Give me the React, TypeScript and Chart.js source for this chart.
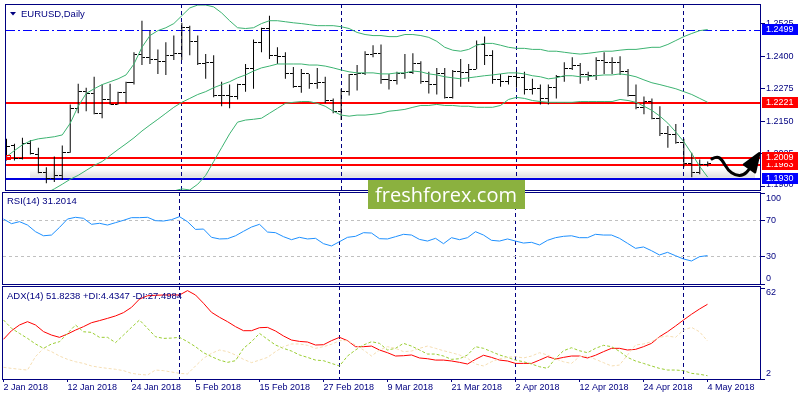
import React, { useEffect, useRef } from 'react';
import { Chart, registerables } from 'chart.js';

Chart.register(...registerables);

// ---------------- data ----------------
const xTickBars = [0, 8, 16, 24, 32, 40, 48, 56, 64, 72, 80, 88];
const xTickLabels = ['2 Jan 2018', '12 Jan 2018', '24 Jan 2018', '5 Feb 2018', '15 Feb 2018', '27 Feb 2018', '9 Mar 2018', '21 Mar 2018', '2 Apr 2018', '12 Apr 2018', '24 Apr 2018', '4 May 2018'];
const monthStartBars = [22, 42, 64, 85];

const open = [
  1.2053, 1.2057, 1.2008, 1.2064, 1.2023, 1.1955, 1.1932, 1.1943, 1.2030, 1.2200,
  1.2264, 1.2257, 1.2181, 1.2234, 1.2215, 1.2260, 1.2298, 1.2408, 1.2396, 1.2389,
  1.2381, 1.2404, 1.2411, 1.2509, 1.2457, 1.2370, 1.2374, 1.2249, 1.2249, 1.2245,
  1.2291, 1.2351, 1.2453, 1.2506, 1.2404, 1.2400, 1.2332, 1.2283, 1.2332, 1.2294,
  1.2298, 1.2230, 1.2189, 1.2264, 1.2328, 1.2332, 1.2408, 1.2411, 1.2309, 1.2306,
  1.2332, 1.2336, 1.2370, 1.2302, 1.2291, 1.2332, 1.2242, 1.2340, 1.2336, 1.2347,
  1.2445, 1.2404, 1.2309, 1.2302, 1.2321, 1.2317, 1.2272, 1.2275, 1.2238, 1.2279,
  1.2321, 1.2351, 1.2366, 1.2328, 1.2325, 1.2385, 1.2377, 1.2374, 1.2340, 1.2249,
  1.2204, 1.2226, 1.2162, 1.2102, 1.2098, 1.2068, 1.1989, 1.1955, 1.1985,
];
const high = [
  1.2083, 1.2064, 1.2087, 1.2079, 1.2049, 1.1974, 1.2015, 1.2057, 1.2215, 1.2294,
  1.2279, 1.2321, 1.2291, 1.2294, 1.2264, 1.2302, 1.2415, 1.2536, 1.2498, 1.2426,
  1.2453, 1.2479, 1.2528, 1.2517, 1.2479, 1.2408, 1.2404, 1.2302, 1.2291, 1.2294,
  1.2370, 1.2464, 1.2509, 1.2555, 1.2434, 1.2415, 1.2358, 1.2351, 1.2332, 1.2355,
  1.2321, 1.2238, 1.2275, 1.2332, 1.2366, 1.2419, 1.2442, 1.2445, 1.2332, 1.2340,
  1.2408, 1.2411, 1.2381, 1.2340, 1.2355, 1.2355, 1.2347, 1.2389, 1.2370, 1.2460,
  1.2475, 1.2423, 1.2332, 1.2325, 1.2343, 1.2340, 1.2313, 1.2291, 1.2291, 1.2328,
  1.2377, 1.2396, 1.2374, 1.2340, 1.2396, 1.2415, 1.2396, 1.2400, 1.2351, 1.2291,
  1.2245, 1.2238, 1.2208, 1.2132, 1.2140, 1.2083, 1.2030, 1.2004, 1.1996,
];
const low = [
  1.2000, 1.2000, 1.2004, 1.2023, 1.1951, 1.1913, 1.1917, 1.1925, 1.2030, 1.2181,
  1.2189, 1.2177, 1.2162, 1.2215, 1.2215, 1.2219, 1.2291, 1.2366, 1.2370, 1.2332,
  1.2328, 1.2385, 1.2385, 1.2404, 1.2366, 1.2313, 1.2242, 1.2208, 1.2200, 1.2234,
  1.2264, 1.2275, 1.2415, 1.2389, 1.2370, 1.2313, 1.2279, 1.2260, 1.2275, 1.2275,
  1.2219, 1.2181, 1.2155, 1.2249, 1.2268, 1.2328, 1.2396, 1.2294, 1.2272, 1.2291,
  1.2313, 1.2332, 1.2294, 1.2257, 1.2253, 1.2238, 1.2238, 1.2283, 1.2302, 1.2351,
  1.2366, 1.2294, 1.2283, 1.2291, 1.2279, 1.2253, 1.2253, 1.2215, 1.2215, 1.2238,
  1.2302, 1.2347, 1.2294, 1.2306, 1.2309, 1.2332, 1.2332, 1.2328, 1.2245, 1.2196,
  1.2177, 1.2158, 1.2094, 1.2049, 1.2064, 1.1974, 1.1936, 1.1947, 1.1977,
];
const close = [
  1.2053, 1.2008, 1.2064, 1.2026, 1.1955, 1.1932, 1.1943, 1.2030, 1.2200, 1.2264,
  1.2257, 1.2181, 1.2234, 1.2215, 1.2260, 1.2298, 1.2408, 1.2396, 1.2389, 1.2381,
  1.2404, 1.2411, 1.2509, 1.2457, 1.2370, 1.2374, 1.2249, 1.2249, 1.2245, 1.2291,
  1.2351, 1.2453, 1.2506, 1.2404, 1.2400, 1.2332, 1.2283, 1.2332, 1.2294, 1.2298,
  1.2230, 1.2189, 1.2264, 1.2328, 1.2332, 1.2408, 1.2411, 1.2309, 1.2306, 1.2332,
  1.2336, 1.2370, 1.2302, 1.2291, 1.2332, 1.2242, 1.2340, 1.2336, 1.2347, 1.2445,
  1.2404, 1.2309, 1.2302, 1.2321, 1.2317, 1.2272, 1.2275, 1.2238, 1.2279, 1.2321,
  1.2351, 1.2366, 1.2328, 1.2325, 1.2385, 1.2377, 1.2374, 1.2340, 1.2249, 1.2204,
  1.2226, 1.2162, 1.2102, 1.2098, 1.2068, 1.1989, 1.1955, 1.1985, 1.1989,
];

const bbUpper = [
  1.2015, 1.2038, 1.2060, 1.2075, 1.2083, 1.2087, 1.2091, 1.2098, 1.2143, 1.2208,
  1.2257, 1.2275, 1.2291, 1.2302, 1.2313, 1.2328, 1.2370, 1.2434, 1.2479, 1.2498,
  1.2509, 1.2525, 1.2555, 1.2585, 1.2596, 1.2596, 1.2589, 1.2566, 1.2536, 1.2509,
  1.2506, 1.2509, 1.2525, 1.2536, 1.2536, 1.2532, 1.2528, 1.2525, 1.2521, 1.2517,
  1.2517, 1.2517, 1.2513, 1.2506, 1.2491, 1.2483, 1.2479, 1.2479, 1.2475, 1.2475,
  1.2483, 1.2483, 1.2479, 1.2472, 1.2457, 1.2434, 1.2423, 1.2419, 1.2426, 1.2442,
  1.2449, 1.2449, 1.2442, 1.2434, 1.2430, 1.2430, 1.2426, 1.2426, 1.2419, 1.2419,
  1.2415, 1.2411, 1.2408, 1.2411, 1.2415, 1.2419, 1.2419, 1.2423, 1.2426, 1.2426,
  1.2430, 1.2434, 1.2434, 1.2445, 1.2460, 1.2475, 1.2487, 1.2498, 1.2502,
];
const bbMiddle = [
  1.1785, 1.1804, 1.1819, 1.1838, 1.1857, 1.1875, 1.1891, 1.1909, 1.1928, 1.1943,
  1.1962, 1.1981, 1.1996, 1.2019, 1.2042, 1.2064, 1.2087, 1.2113, 1.2136, 1.2158,
  1.2181, 1.2204, 1.2223, 1.2238, 1.2253, 1.2264, 1.2279, 1.2291, 1.2302, 1.2317,
  1.2328, 1.2343, 1.2355, 1.2362, 1.2370, 1.2370, 1.2370, 1.2370, 1.2366, 1.2366,
  1.2362, 1.2355, 1.2347, 1.2340, 1.2336, 1.2336, 1.2336, 1.2332, 1.2332, 1.2336,
  1.2336, 1.2343, 1.2340, 1.2332, 1.2328, 1.2321, 1.2317, 1.2313, 1.2317, 1.2321,
  1.2325, 1.2328, 1.2332, 1.2336, 1.2336, 1.2332, 1.2325, 1.2321, 1.2313, 1.2317,
  1.2325, 1.2325, 1.2321, 1.2321, 1.2325, 1.2328, 1.2328, 1.2332, 1.2328, 1.2321,
  1.2309, 1.2298, 1.2291, 1.2283, 1.2275, 1.2264, 1.2253, 1.2238, 1.2223,
];
const bbLower = [
  1.1555, 1.1570, 1.1577, 1.1600, 1.1630, 1.1664, 1.1691, 1.1721, 1.1713, 1.1679,
  1.1668, 1.1687, 1.1702, 1.1736, 1.1770, 1.1800, 1.1804, 1.1792, 1.1792, 1.1819,
  1.1853, 1.1883, 1.1891, 1.1887, 1.1909, 1.1943, 1.1996, 1.2049, 1.2102, 1.2147,
  1.2155, 1.2158, 1.2162, 1.2181, 1.2200, 1.2219, 1.2223, 1.2226, 1.2226, 1.2219,
  1.2208, 1.2189, 1.2174, 1.2170, 1.2174, 1.2174, 1.2177, 1.2181, 1.2189, 1.2192,
  1.2196, 1.2204, 1.2211, 1.2211, 1.2215, 1.2211, 1.2211, 1.2208, 1.2208, 1.2204,
  1.2204, 1.2204, 1.2211, 1.2234, 1.2242, 1.2238, 1.2230, 1.2226, 1.2223, 1.2223,
  1.2223, 1.2223, 1.2226, 1.2226, 1.2226, 1.2226, 1.2226, 1.2234, 1.2230, 1.2223,
  1.2208, 1.2192, 1.2170, 1.2143, 1.2109, 1.2072, 1.2026, 1.1977, 1.1936,
];

const rsi = [
  71.4, 66.3, 68.5, 64.8, 57.5, 53.0, 53.8, 62.2, 71.4, 73.3,
  72.2, 65.6, 66.7, 64.8, 67.4, 70.0, 72.9, 72.9, 73.3, 69.6,
  69.2, 70.7, 74.0, 68.5, 60.0, 60.4, 51.3, 49.5, 49.8, 53.0,
  57.9, 62.6, 65.6, 57.1, 56.4, 52.0, 48.7, 51.3, 49.5, 50.2,
  44.3, 41.8, 46.5, 51.3, 52.4, 56.4, 56.0, 49.8, 49.5, 52.0,
  54.6, 53.8, 49.0, 47.2, 50.2, 44.3, 50.9, 48.7, 50.9, 57.5,
  53.8, 48.0, 47.2, 49.5, 47.2, 45.0, 45.8, 42.9, 48.0, 50.9,
  52.4, 53.0, 50.9, 50.9, 54.6, 53.8, 53.8, 50.2, 44.7, 39.2,
  40.7, 36.6, 31.9, 34.8, 31.1, 27.5, 25.3, 30.0, 31.2014,
];
const adx = [
  28.6, 34.3, 38.1, 40.3, 38.1, 33.7, 31.4, 29.9, 32.1, 34.7,
  37.0, 39.6, 41.0, 42.5, 44.1, 46.3, 49.8, 55.3, 57.5, 57.8,
  58.0, 58.0, 58.0, 60.9, 58.0, 52.5, 46.5, 43.2, 40.3, 37.0,
  34.3, 34.3, 36.3, 36.5, 34.1, 30.8, 28.1, 27.2, 26.8, 24.8,
  25.0, 27.7, 29.9, 27.7, 23.7, 23.7, 24.1, 21.5, 19.7, 17.5,
  17.7, 18.2, 16.2, 15.7, 14.8, 14.8, 14.2, 13.3, 12.2, 15.3,
  18.0, 16.6, 14.8, 14.2, 12.6, 12.6, 12.6, 14.8, 17.1, 15.5,
  16.6, 17.5, 17.5, 16.2, 18.0, 20.4, 22.6, 22.6, 21.5, 21.9,
  23.7, 25.9, 30.3, 33.6, 37.4, 41.4, 45.2, 48.7, 51.8238,
];
const plusDI = [
  41.4, 35.9, 32.5, 29.2, 25.5, 22.6, 25.5, 27.0, 32.5, 38.1,
  33.6, 33.2, 29.9, 29.9, 26.4, 31.4, 36.5, 41.4, 35.9, 30.3,
  29.2, 29.4, 29.9, 27.0, 23.7, 19.7, 17.1, 14.8, 13.3, 14.4,
  22.6, 27.0, 32.5, 28.6, 24.8, 22.6, 20.8, 18.2, 16.6, 14.8,
  14.4, 12.6, 10.9, 17.5, 21.5, 24.8, 27.0, 25.9, 21.5, 22.6,
  25.9, 24.1, 21.5, 18.8, 18.8, 17.5, 15.3, 15.7, 18.2, 23.7,
  22.6, 20.4, 18.2, 16.6, 14.8, 13.7, 12.2, 10.4, 9.3, 15.9,
  21.0, 23.0, 21.0, 19.7, 22.6, 24.6, 23.7, 20.6, 16.6, 14.2,
  12.6, 10.9, 9.3, 8.2, 8.2, 7.8, 6.0, 5.4, 4.4347,
];
const minusDI = [
  10.0, 9.3, 8.7, 8.2, 17.1, 22.6, 20.4, 17.5, 15.3, 13.7,
  12.6, 10.9, 10.0, 9.3, 8.7, 7.8, 6.0, 5.3, 4.9, 8.2,
  7.8, 6.9, 6.0, 5.6, 10.9, 16.0, 19.3, 21.5, 20.4, 18.2,
  15.3, 13.1, 14.8, 16.6, 20.4, 23.7, 25.5, 25.5, 24.6, 22.6,
  23.7, 25.3, 27.7, 27.7, 24.8, 21.5, 17.5, 21.5, 23.7, 22.6,
  20.4, 20.8, 22.6, 24.1, 22.6, 21.0, 19.7, 18.2, 16.0, 12.2,
  10.9, 13.7, 15.7, 16.6, 17.1, 16.2, 17.5, 19.7, 18.2, 15.7,
  13.7, 12.6, 17.1, 17.5, 15.3, 13.1, 10.9, 11.5, 18.2, 24.8,
  25.5, 27.0, 29.9, 30.8, 29.9, 34.7, 36.5, 33.6, 27.4984,
];

const priceTicks = [1.2525, 1.24, 1.2275, 1.215, 1.2025, 1.19];
const rsiTicks = [100, 70, 30, 0];
const rsiLevels = [70, 30];
const adxTicks = [62, 2];

const levelValues = [1.2499, 1.2221, 1.2009, 1.1983, 1.193];
const levelColors = ['#0000FF', '#FF0000', '#FF0000', '#FF0000', '#0000E0'];
const levelDashes = [[9, 3, 2, 3], [], [], [], []];
const boxOrder = [0, 1, 3, 2, 4];

// hand-drawn arrow, in (bar index, price)
const arrowPath = [[88.525, 1.20064], [89.15, 1.20162], [89.775, 1.20038], [90.5625, 1.19623], [91.4375, 1.19434], [92.475, 1.19423], [93.3125, 1.19687], [93.9375, 1.2]];
const arrowHead = [[94.475, 1.20275], [92.56, 1.19849], [93.94, 1.19547]];

const priceRange = [1.188679, 1.259623];
const rsiRange = [0, 100];
const adxRange = [2.25, 63.3];
const barRange = [-0.1875, 94.6875];

// ---------------- helpers ----------------
const FONT = '"Liberation Sans", Arial, sans-serif';
const NAVY = '#000080';

const pts = (arr: number[]) => arr.map((v, i) => ({ x: i, y: v }));

function tickImage(side: 'left' | 'right') {
  const c = document.createElement('canvas');
  c.width = 7;
  c.height = 1;
  const g = c.getContext('2d')!;
  g.fillStyle = '#000';
  g.fillRect(side === 'left' ? 0 : 4, 0, 3, 1);
  return c;
}

function xAxis(show: boolean): any {
  return {
    type: 'linear',
    min: barRange[0],
    max: barRange[1],
    offset: false,
    display: show,
    afterBuildTicks: (s: any) => {
      s.ticks = xTickBars.map((v) => ({ value: v }));
    },
    afterFit: (s: any) => {
      s.height = show ? 21 : 0;
      s.paddingLeft = 0;
      s.paddingRight = 0;
    },
    ticks: {
      callback: (_v: any, i: number) => xTickLabels[i],
      align: 'start',
      padding: 0,
      autoSkip: false,
      maxRotation: 0,
      minRotation: 0,
      color: NAVY,
      font: { family: FONT, size: 9 },
    },
    grid: { display: show, offset: false, drawOnChartArea: false, drawTicks: true, tickLength: 3, color: NAVY },
    border: { display: false },
  };
}

function panelPlugin(cfg: any) {
  return {
    id: cfg.id,
    beforeDatasetsDraw(chart: any) {
      const { ctx, chartArea: a, scales } = chart;
      ctx.save();
      if (cfg.under) cfg.under(chart);
      ctx.strokeStyle = NAVY;
      ctx.lineWidth = 1;
      ctx.setLineDash([4, 3]);
      for (const b of monthStartBars) {
        const px = Math.floor(scales.x.getPixelForValue(b)) + 0.5;
        ctx.beginPath();
        ctx.moveTo(px, a.top - 1);
        ctx.lineTo(px, a.bottom + 1);
        ctx.stroke();
      }
      for (const l of cfg.levels) {
        const py = scales.y.getPixelForValue(l.value);
        const yy = l.width === 1 ? Math.floor(py) + 0.5 : Math.round(py);
        ctx.strokeStyle = l.color;
        ctx.lineWidth = l.width;
        ctx.setLineDash(l.dash);
        ctx.beginPath();
        ctx.moveTo(a.left + 1, yy);
        ctx.lineTo(a.right, yy);
        ctx.stroke();
      }
      ctx.restore();
    },
    afterDraw(chart: any) {
      const { ctx, chartArea: a, scales } = chart;
      ctx.save();
      ctx.setLineDash([]);
      ctx.strokeStyle = NAVY;
      ctx.lineWidth = 1;
      ctx.strokeRect(a.left + 0.5, a.top - 0.5, a.right - a.left - 1, a.bottom - a.top + 1);
      ctx.font = `9px ${FONT}`;
      ctx.textBaseline = 'middle';
      ctx.textAlign = 'left';
      for (const t of cfg.axisLabels) {
        const py = scales.y.getPixelForValue(t.value);
        const ty = Math.min(Math.floor(py), a.bottom) + 0.5;
        ctx.strokeStyle = NAVY;
        ctx.beginPath();
        ctx.moveTo(a.right, ty);
        ctx.lineTo(a.right + 4, ty);
        ctx.stroke();
        const cy = Math.min(Math.max(py, a.top + 6), a.bottom - 5);
        ctx.fillStyle = NAVY;
        ctx.fillText(t.text, a.right + 5, cy);
      }
      for (const b of cfg.boxes) {
        const py = Math.round(scales.y.getPixelForValue(b.value));
        ctx.fillStyle = b.color;
        ctx.fillRect(a.right + 1, py - 6, 36, 11);
        ctx.fillStyle = '#FFFFFF';
        ctx.fillText(b.text, a.right + 5, py - 0.5);
      }
      ctx.font = `9.5px ${FONT}`;
      ctx.fillStyle = NAVY;
      if (cfg.triangle) {
        ctx.beginPath();
        ctx.moveTo(a.left + 5, a.top + 7);
        ctx.lineTo(a.left + 11, a.top + 7);
        ctx.lineTo(a.left + 8, a.top + 10.5);
        ctx.closePath();
        ctx.fill();
      }
      ctx.fillText(cfg.title, a.left + cfg.titleDx, a.top + cfg.titleDy);
      if (cfg.over) cfg.over(chart);
      ctx.restore();
    },
  };
}

function baseOptions(padding: any, yRange: number[], showX: boolean): any {
  return {
    responsive: false,
    animation: false,
    devicePixelRatio: 1,
    events: [],
    layout: { padding },
    plugins: { legend: { display: false }, tooltip: { enabled: false } },
    elements: { point: { radius: 0 }, line: { tension: 0 } },
    scales: {
      x: xAxis(showX),
      y: { type: 'linear', display: false, min: yRange[0], max: yRange[1], beginAtZero: false },
    },
  };
}

export default function App() {
  const mainRef = useRef<HTMLCanvasElement>(null);
  const rsiRef = useRef<HTMLCanvasElement>(null);
  const adxRef = useRef<HTMLCanvasElement>(null);

  useEffect(() => {
    const charts: Chart[] = [];
    const openImg = tickImage('left');
    const closeImg = tickImage('right');
    const GREEN = '#3CB371';

    // ---------- main price panel ----------
    const mainLevels = levelValues.map((v, i) => ({ value: v, color: levelColors[i], width: i === 0 ? 1 : 2, dash: levelDashes[i] }));
    const mainBoxes = boxOrder.map((i) => ({ value: levelValues[i], text: levelValues[i].toFixed(4), color: i === 0 || i === 4 ? '#0000FF' : '#FF0000' }));

    const mainPlugin = panelPlugin({
      id: 'mainPanel',
      levels: mainLevels,
      boxes: mainBoxes,
      axisLabels: priceTicks.map((v) => ({ value: v, text: v.toFixed(4) })),
      title: 'EURUSD,Daily',
      titleDx: 16,
      titleDy: 9,
      triangle: true,
      under: (chart: any) => {
        const { ctx, scales } = chart;
        const yb = scales.y.getPixelForValue(levelValues[4]);
        const g = ctx.createLinearGradient(0, yb - 10, 0, yb - 1);
        g.addColorStop(0, 'rgba(0,0,0,0)');
        g.addColorStop(1, 'rgba(0,0,0,0.13)');
        ctx.fillStyle = g;
        ctx.fillRect(30, yb - 10, 725, 9);
      },
      over: (chart: any) => {
        const { ctx, scales, chartArea: a } = chart;
        const X = scales.x, Y = scales.y;
        // red selection square
        const ys = Math.round(Y.getPixelForValue(levelValues[2]));
        ctx.strokeStyle = '#FF0000';
        ctx.lineWidth = 1;
        ctx.strokeRect(a.left + 1.5, ys - 2.5, 4, 4);
        // arrow
        const p = arrowPath.map(([i, v]) => [X.getPixelForValue(i), Y.getPixelForValue(v)]);
        ctx.strokeStyle = '#000';
        ctx.fillStyle = '#000';
        ctx.lineWidth = 3;
        ctx.lineCap = 'round';
        ctx.lineJoin = 'round';
        ctx.beginPath();
        ctx.moveTo(p[0][0], p[0][1]);
        for (let k = 1; k < p.length - 1; k++) {
          const mx = (p[k][0] + p[k + 1][0]) / 2;
          const my = (p[k][1] + p[k + 1][1]) / 2;
          ctx.quadraticCurveTo(p[k][0], p[k][1], mx, my);
        }
        ctx.lineTo(p[p.length - 1][0], p[p.length - 1][1]);
        ctx.stroke();
        const h = arrowHead.map(([i, v]) => [X.getPixelForValue(i), Y.getPixelForValue(v)]);
        ctx.lineWidth = 2.5;
        ctx.beginPath();
        ctx.moveTo(h[1][0], h[1][1]);
        ctx.lineTo(h[0][0], h[0][1]);
        ctx.lineTo(h[2][0], h[2][1]);
        ctx.closePath();
        ctx.fill();
        ctx.stroke();
        // watermark
        ctx.fillStyle = '#8BB13F';
        ctx.fillRect(368, 180, 157, 29);
        ctx.fillStyle = '#FFFFFF';
        ctx.font = '20px "Open Sans", sans-serif';
        const w = ctx.measureText('freshforex.com').width;
        const size = (20 * 142) / w;
        ctx.font = `${size}px "Open Sans", sans-serif`;
        ctx.textBaseline = 'alphabetic';
        ctx.fillText('freshforex.com', 375, 202);
      },
    });

    charts.push(
      new Chart(mainRef.current!, {
        type: 'line',
        data: {
          datasets: [
            { type: 'line', data: pts(bbUpper), borderColor: GREEN, borderWidth: 1, pointRadius: 0 },
            { type: 'line', data: pts(bbMiddle), borderColor: GREEN, borderWidth: 1, pointRadius: 0 },
            { type: 'line', data: pts(bbLower), borderColor: GREEN, borderWidth: 1, pointRadius: 0 },
            {
              type: 'bar',
              data: high.map((h, i) => ({ x: i, y: [low[i], h] })),
              backgroundColor: '#000',
              borderWidth: 0,
              barThickness: 1,
              inflateAmount: 0,
              grouped: false,
            },
            { type: 'scatter', data: pts(open), pointStyle: openImg, pointRadius: 1, showLine: false },
            { type: 'scatter', data: pts(close), pointStyle: closeImg, pointRadius: 1, showLine: false },
          ],
        } as any,
        options: baseOptions({ left: 2, right: 39, top: 2, bottom: 210 }, priceRange, false),
        plugins: [mainPlugin],
      })
    );

    // ---------- RSI panel ----------
    const rsiPlugin = panelPlugin({
      id: 'rsiPanel',
      levels: rsiLevels.map((v) => ({ value: v, color: '#C0C0C0', width: 1, dash: [3, 3] })),
      boxes: [],
      axisLabels: rsiTicks.map((v) => ({ value: v, text: String(v) })),
      title: `RSI(14) ${rsi[rsi.length - 1].toFixed(4)}`,
      titleDx: 5,
      titleDy: 8,
    });
    charts.push(
      new Chart(rsiRef.current!, {
        type: 'line',
        data: {
          datasets: [{ data: pts(rsi), borderColor: '#1E90FF', borderWidth: 1, pointRadius: 0 }],
        } as any,
        options: baseOptions({ left: 2, right: 39, top: 193, bottom: 116 }, rsiRange, false),
        plugins: [rsiPlugin],
      })
    );

    // ---------- ADX panel ----------
    const adxPlugin = panelPlugin({
      id: 'adxPanel',
      levels: [],
      boxes: [],
      axisLabels: adxTicks.map((v) => ({ value: v, text: String(v) })),
      title: `ADX(14) ${adx[adx.length - 1].toFixed(4)} +DI:${plusDI[plusDI.length - 1].toFixed(4)} -DI:${minusDI[minusDI.length - 1].toFixed(4)}`,
      titleDx: 5,
      titleDy: 9,
    });
    charts.push(
      new Chart(adxRef.current!, {
        type: 'line',
        data: {
          datasets: [
            { data: pts(minusDI), borderColor: '#F5DEB3', borderWidth: 1, borderDash: [3, 2], pointRadius: 0 },
            { data: pts(plusDI), borderColor: '#9ACD32', borderWidth: 1, borderDash: [3, 2], pointRadius: 0 },
            { data: pts(adx), borderColor: '#FF0000', borderWidth: 1, pointRadius: 0 },
          ],
        } as any,
        options: baseOptions({ left: 2, right: 39, top: 287, bottom: 0 }, adxRange, true),
        plugins: [adxPlugin],
      })
    );

    return () => charts.forEach((c) => c.destroy());
  }, []);

  const cs: React.CSSProperties = { position: 'absolute', left: 0, top: 0 };
  return (
    <div style={{ position: 'absolute', left: 0, top: 0, width: 800, height: 400, background: '#FFFFFF', overflow: 'hidden' }}>
      <canvas ref={rsiRef} width={800} height={400} style={cs} />
      <canvas ref={adxRef} width={800} height={400} style={cs} />
      <canvas ref={mainRef} width={800} height={400} style={cs} />
    </div>
  );
}
